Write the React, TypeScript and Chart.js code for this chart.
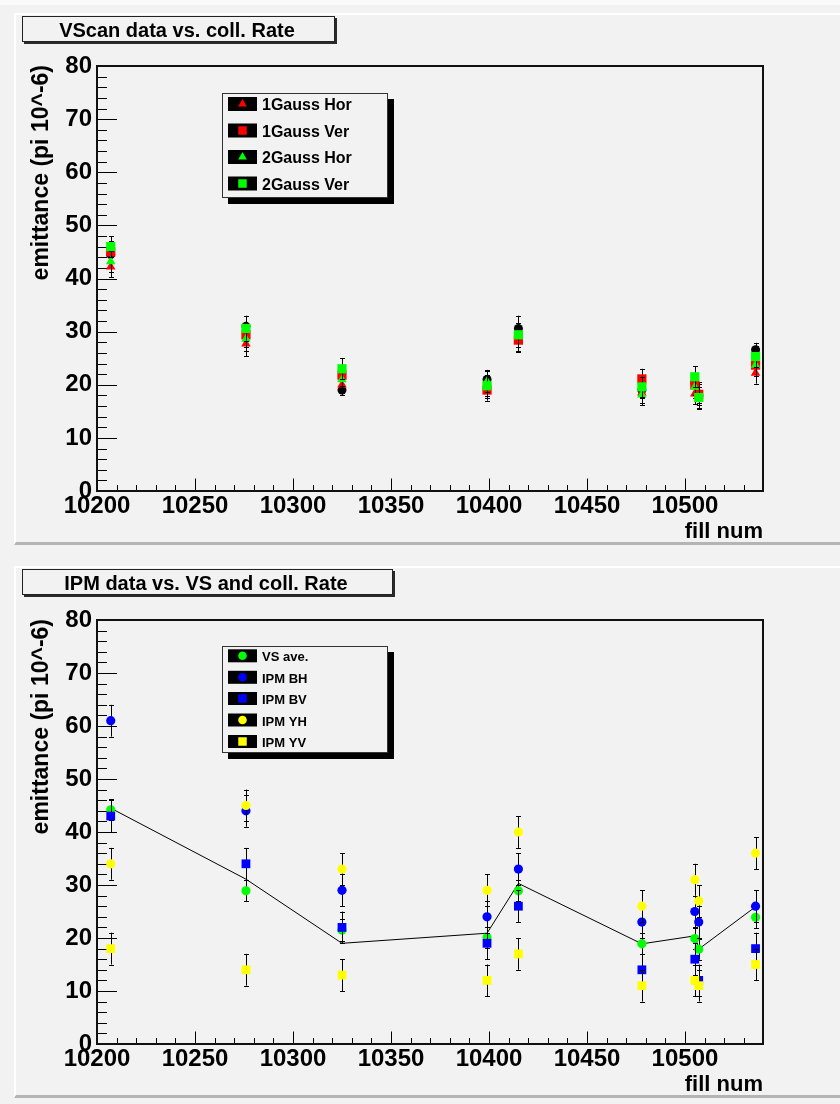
import React, { useEffect, useRef } from 'react';
import { Chart, registerables } from 'chart.js';

Chart.register(...registerables);

const FONT = '"Liberation Sans", Arial, Helvetica, sans-serif';

// ---------- shared axis data ----------
const FILLS = [10207, 10276, 10325, 10399, 10415, 10478, 10505, 10507, 10536];
const X_TICKS = [10200, 10250, 10300, 10350, 10400, 10450, 10500];
const Y_TICKS = [0, 10, 20, 30, 40, 50, 60, 70, 80];
const X_MIN = 10200;
const X_MAX = 10539.8;
const Y_MIN = 0;
const Y_MAX = 80;

// ---------- top panel: VScan data vs. coll. Rate ----------
const COLL_RATE_TOP = [44.5, 31.0, 19.0, 21.0, 30.6, 19.0, 20.4, 18.0, 26.6];
const COLL_RATE_TOP_ERR = [1.5, 2.0, 0.6, 1.8, 2.4, 1.5, 1.5, 1.5, 1.3];
const GAUSS1_HOR = [42.2, 27.7, 20.0, 19.5, 28.5, 18.5, 18.3, 18.5, 22.2];
const GAUSS1_VER = [45.0, 29.4, 21.8, 19.0, 28.4, 21.1, 20.0, 18.2, 23.7];
const GAUSS2_HOR = [43.2, 28.6, 21.0, 20.6, 29.4, 18.1, 19.6, 17.5, 23.7];
const GAUSS2_VER = [46.0, 30.6, 23.0, 19.8, 29.4, 19.6, 21.5, 17.6, 25.3];
const GAUSS_ERR = [2.0, 2.3, 2.0, 2.0, 2.2, 1.9, 2.0, 2.0, 2.0];

// ---------- bottom panel: IPM data vs. VS and coll. Rate ----------
const COLL_RATE_LINE = [44.5, 31.1, 19.0, 20.9, 30.3, 18.9, 20.4, 17.9, 25.9];
const VS_AVE = [44.2, 28.9, 21.5, 20.1, 28.9, 18.9, 19.9, 17.9, 23.9];
const VS_AVE_ERR = [2.0, 2.0, 2.0, 2.0, 2.0, 2.0, 2.0, 2.0, 2.0];
const IPM_BH = [61, 44, 29, 24, 33, 23, 25, 23, 26];
const IPM_BV = [43, 34, 22, 19, 26, 14, 16, 12, 18];
const IPM_YH = [34, 45, 33, 29, 40, 26, 31, 27, 36];
const IPM_YV = [18, 14, 13, 12, 17, 11, 12, 11, 15];
const IPM_ERR = [3, 3, 3, 3, 3, 3, 3, 3, 3];

type PointStyle = 'circle' | 'rect' | 'triangle';

interface SeriesDef {
  label: string | null;
  values: (number | null)[];
  errors: number[] | null;
  color: string;
  style: PointStyle;
  radius: number;
  line?: boolean;
}

interface LegendRow {
  label: string;
  color: string;
  style: PointStyle;
  radius: number;
  cy: number;
}

interface PanelDef {
  title: string;
  titleBox: [number, number, number, number];
  legendBox: [number, number, number, number];
  legendRows: LegendRow[];
  legendFont: number;
  legendRectH: number;
  legendTextDy: number;
  areaTop: number;
  areaBottom: number;
  series: SeriesDef[];
}

const CANVAS_W = 840;
const CANVAS_H = 552;
const AREA_LEFT = 97;
const AREA_RIGHT = 763;

function drawMarker(ctx: CanvasRenderingContext2D, style: PointStyle, x: number, y: number, r: number, color: string) {
  ctx.save();
  ctx.fillStyle = color;
  ctx.beginPath();
  if (style === 'circle') {
    ctx.arc(x, y, r, 0, Math.PI * 2);
  } else if (style === 'rect') {
    const s = Math.SQRT1_2 * r;
    ctx.rect(x - s, y - s, 2 * s, 2 * s);
  } else {
    ctx.moveTo(x, y - r);
    ctx.lineTo(x + 0.866 * r, y + 0.5 * r);
    ctx.lineTo(x - 0.866 * r, y + 0.5 * r);
    ctx.closePath();
  }
  ctx.fill();
  ctx.restore();
}

function makeDecorPlugin(p: PanelDef, errs: (number[] | null)[]) {
  return {
    id: 'rootDecor',
    beforeDatasetsDraw(chart: any) {
      const ctx: CanvasRenderingContext2D = chart.ctx;
      const a = chart.chartArea;
      const xs = chart.scales.x;
      const ys = chart.scales.y;
      ctx.save();
      ctx.strokeStyle = '#000';
      ctx.lineWidth = 1;
      ctx.beginPath();
      for (let v = Y_MIN; v <= Y_MAX + 1e-9; v += 2) {
        const py = Math.round(ys.getPixelForValue(v)) + 0.5;
        const major = Math.abs(v % 10) < 1e-9;
        const len = major ? 20 : 10;
        ctx.moveTo(a.left, py);
        ctx.lineTo(a.left + len, py);
      }
      for (let v = X_MIN; v < X_MAX; v += 10) {
        const px = Math.round(xs.getPixelForValue(v)) + 0.5;
        const major = Math.abs(v % 50) < 1e-9;
        const len = major ? 12.5 : 6;
        ctx.moveTo(px, a.bottom);
        ctx.lineTo(px, a.bottom - len);
      }
      ctx.stroke();
      ctx.lineWidth = 2;
      ctx.strokeStyle = '#111';
      ctx.strokeRect(a.left, a.top, a.right - a.left, a.bottom - a.top);
      ctx.restore();
    },
    beforeDatasetDraw(chart: any, args: any) {
      const e = errs[args.index];
      if (!e) return;
      const ctx: CanvasRenderingContext2D = chart.ctx;
      const ys = chart.scales.y;
      const data = chart.data.datasets[args.index].data as any[];
      ctx.save();
      ctx.strokeStyle = '#000';
      ctx.lineWidth = 1;
      ctx.beginPath();
      args.meta.data.forEach((el: any, i: number) => {
        const d = data[i];
        if (!d || d.y == null) return;
        const x = Math.round(el.x) + 0.5;
        const y1 = ys.getPixelForValue(d.y + e[i]);
        const y2 = ys.getPixelForValue(d.y - e[i]);
        ctx.moveTo(x, y1);
        ctx.lineTo(x, y2);
        ctx.moveTo(x - 2.5, Math.round(y1) + 0.5);
        ctx.lineTo(x + 2.5, Math.round(y1) + 0.5);
        ctx.moveTo(x - 2.5, Math.round(y2) + 0.5);
        ctx.lineTo(x + 2.5, Math.round(y2) + 0.5);
      });
      ctx.stroke();
      ctx.restore();
    },
    afterDraw(chart: any) {
      const ctx: CanvasRenderingContext2D = chart.ctx;
      const a = chart.chartArea;
      ctx.save();
      const [tx0, ty0, tx1, ty1] = p.titleBox;
      ctx.fillStyle = '#2a2a2a';
      ctx.fillRect(tx0 + 2, ty0 + 2, tx1 - tx0, ty1 - ty0);
      ctx.fillStyle = '#f2f2f2';
      ctx.fillRect(tx0, ty0, tx1 - tx0, ty1 - ty0);
      ctx.strokeStyle = '#222';
      ctx.lineWidth = 1;
      ctx.strokeRect(tx0 + 0.5, ty0 + 0.5, tx1 - tx0 - 1, ty1 - ty0 - 1);
      ctx.fillStyle = '#000';
      ctx.font = `bold 20px ${FONT}`;
      ctx.textAlign = 'center';
      ctx.textBaseline = 'alphabetic';
      ctx.fillText(p.title, (tx0 + tx1) / 2 - 1.5, ty1 - 5.5);

      ctx.save();
      ctx.translate(42, a.top - 1);
      ctx.rotate(-Math.PI / 2);
      ctx.font = `bold 23px ${FONT}`;
      ctx.textAlign = 'right';
      ctx.textBaseline = 'middle';
      ctx.fillText('emittance (pi 10^-6)', 0, 0);
      ctx.restore();

      ctx.font = `bold 22px ${FONT}`;
      ctx.textAlign = 'right';
      ctx.textBaseline = 'alphabetic';
      ctx.fillText('fill num', a.right, a.bottom + 47);

      const [lx0, ly0, lx1, ly1] = p.legendBox;
      ctx.fillStyle = '#000';
      ctx.fillRect(lx0 + 6, ly0 + 6, lx1 - lx0, ly1 - ly0);
      ctx.fillStyle = '#f2f2f2';
      ctx.fillRect(lx0, ly0, lx1 - lx0, ly1 - ly0);
      ctx.strokeStyle = '#333';
      ctx.lineWidth = 1;
      ctx.strokeRect(lx0 + 0.5, ly0 + 0.5, lx1 - lx0 - 1, ly1 - ly0 - 1);
      ctx.font = `bold ${p.legendFont}px ${FONT}`;
      ctx.textAlign = 'left';
      ctx.textBaseline = 'middle';
      for (const row of p.legendRows) {
        ctx.fillStyle = '#000';
        ctx.fillRect(228, row.cy - p.legendRectH / 2, 29, p.legendRectH);
        drawMarker(ctx, row.style, 242.5, row.cy, row.radius, row.color);
        ctx.fillStyle = '#000';
        ctx.fillText(row.label, 262, row.cy + p.legendTextDy);
      }
      ctx.restore();
    },
  };
}

function buildConfig(p: PanelDef): any {
  const n = p.series.length;
  const datasets = p.series.map((s, k) => ({
    label: s.label ?? '',
    data: FILLS.map((x, i) => ({ x, y: s.values[i] })),
    order: n - k,
    showLine: !!s.line,
    borderColor: s.line ? '#000' : s.color,
    borderWidth: s.line ? 1 : 0,
    pointStyle: s.style,
    pointRadius: s.line ? 0 : s.radius,
    pointHoverRadius: s.line ? 0 : s.radius,
    pointBackgroundColor: s.color,
    pointBorderColor: s.color,
    pointBorderWidth: 0,
    tension: 0,
  }));
  const errs = p.series.map((s) => s.errors);
  const tickFont = { family: FONT, weight: 'bold', size: 24 };
  return {
    type: 'scatter',
    data: { datasets },
    plugins: [makeDecorPlugin(p, errs)],
    options: {
      animation: false,
      responsive: false,
      devicePixelRatio: 1,
      events: [],
      layout: { padding: { top: p.areaTop, right: CANVAS_W - AREA_RIGHT, left: 0, bottom: 0 } },
      plugins: { legend: { display: false }, tooltip: { enabled: false }, title: { display: false } },
      scales: {
        x: {
          type: 'linear',
          position: 'bottom',
          min: X_MIN,
          max: X_MAX,
          grid: { display: false, drawTicks: false, tickLength: 0 },
          border: { display: false },
          afterBuildTicks: (s: any) => {
            s.ticks = X_TICKS.map((v) => ({ value: v }));
          },
          afterFit: (s: any) => {
            s.height = CANVAS_H - p.areaBottom;
          },
          ticks: {
            padding: 1,
            font: tickFont,
            color: '#000',
            maxRotation: 0,
            minRotation: 0,
            autoSkip: false,
            callback: (v: any) => String(v),
          },
        },
        y: {
          type: 'linear',
          position: 'left',
          min: Y_MIN,
          max: Y_MAX,
          grid: { display: false, drawTicks: false, tickLength: 0 },
          border: { display: false },
          afterBuildTicks: (s: any) => {
            s.ticks = Y_TICKS.map((v) => ({ value: v }));
          },
          afterFit: (s: any) => {
            s.width = AREA_LEFT;
          },
          ticks: {
            padding: 5,
            font: tickFont,
            color: '#000',
            autoSkip: false,
            callback: (v: any) => String(v),
          },
        },
      },
    },
  };
}

const TOP_PANEL: PanelDef = {
  title: 'VScan data vs. coll. Rate',
  titleBox: [22, 16, 335, 42],
  legendBox: [222, 93, 388, 198],
  legendFont: 16,
  legendRectH: 14,
  legendTextDy: 2,
  areaTop: 66,
  areaBottom: 491,
  legendRows: [
    { label: '1Gauss Hor', color: '#ff0000', style: 'triangle', radius: 5, cy: 104 },
    { label: '1Gauss Ver', color: '#ff0000', style: 'rect', radius: 6, cy: 130.5 },
    { label: '2Gauss Hor', color: '#00ff00', style: 'triangle', radius: 5, cy: 157 },
    { label: '2Gauss Ver', color: '#00ff00', style: 'rect', radius: 6, cy: 183.5 },
  ],
  series: [
    { label: null, values: COLL_RATE_TOP, errors: COLL_RATE_TOP_ERR, color: '#000000', style: 'circle', radius: 4.5 },
    { label: '1Gauss Hor', values: GAUSS1_HOR, errors: GAUSS_ERR, color: '#ff0000', style: 'triangle', radius: 5.5 },
    { label: '1Gauss Ver', values: GAUSS1_VER, errors: GAUSS_ERR, color: '#ff0000', style: 'rect', radius: 6.5 },
    { label: '2Gauss Hor', values: GAUSS2_HOR, errors: GAUSS_ERR, color: '#00ff00', style: 'triangle', radius: 5.5 },
    { label: '2Gauss Ver', values: GAUSS2_VER, errors: GAUSS_ERR, color: '#00ff00', style: 'rect', radius: 6.5 },
  ],
};

const BOT_OFF = 552;
const BOTTOM_PANEL: PanelDef = {
  title: 'IPM data vs. VS and coll. Rate',
  titleBox: [22, 569 - BOT_OFF, 393, 595 - BOT_OFF],
  legendBox: [222, 646 - BOT_OFF, 388, 753 - BOT_OFF],
  legendFont: 13,
  legendRectH: 13,
  legendTextDy: 2,
  areaTop: 620 - BOT_OFF,
  areaBottom: 1044 - BOT_OFF,
  legendRows: [
    { label: 'VS ave.', color: '#00ff00', style: 'circle', radius: 4.3, cy: 655.8 - BOT_OFF },
    { label: 'IPM BH', color: '#0000ff', style: 'circle', radius: 4.3, cy: 677.3 - BOT_OFF },
    { label: 'IPM BV', color: '#0000ff', style: 'rect', radius: 6, cy: 698.5 - BOT_OFF },
    { label: 'IPM YH', color: '#ffff00', style: 'circle', radius: 4.3, cy: 720 - BOT_OFF },
    { label: 'IPM YV', color: '#ffff00', style: 'rect', radius: 6, cy: 741.5 - BOT_OFF },
  ],
  series: [
    { label: null, values: COLL_RATE_LINE, errors: null, color: '#000000', style: 'circle', radius: 0, line: true },
    { label: 'VS ave.', values: VS_AVE, errors: VS_AVE_ERR, color: '#00ff00', style: 'circle', radius: 4.6 },
    { label: 'IPM BH', values: IPM_BH, errors: IPM_ERR, color: '#0000ff', style: 'circle', radius: 4.6 },
    { label: 'IPM BV', values: IPM_BV, errors: IPM_ERR, color: '#0000ff', style: 'rect', radius: 6.2 },
    { label: 'IPM YH', values: IPM_YH, errors: IPM_ERR, color: '#ffff00', style: 'circle', radius: 4.6 },
    { label: 'IPM YV', values: IPM_YV, errors: IPM_ERR, color: '#ffff00', style: 'rect', radius: 6.2 },
  ],
};

function PanelChart({ panel, top }: { panel: PanelDef; top: number }) {
  const ref = useRef<HTMLCanvasElement>(null);
  useEffect(() => {
    if (!ref.current) return;
    const chart = new Chart(ref.current, buildConfig(panel));
    return () => chart.destroy();
  }, [panel]);
  return (
    <canvas
      ref={ref}
      width={CANVAS_W}
      height={CANVAS_H}
      style={{ position: 'absolute', left: 0, top, width: CANVAS_W, height: CANVAS_H, display: 'block' }}
    />
  );
}

export default function App() {
  const padStyle = (top: number): React.CSSProperties => ({
    position: 'absolute',
    left: 14,
    top,
    width: 840 - 14,
    height: 532,
    boxSizing: 'border-box',
    borderTop: '2px solid #ffffff',
    borderLeft: '2px solid #ffffff',
    borderBottom: '3px solid #b4b4b4',
    background: '#f2f2f2',
  });
  return (
    <div
      style={{
        position: 'absolute',
        left: 0,
        top: 0,
        width: 840,
        height: 1104,
        background: '#f2f2f2',
        overflow: 'hidden',
      }}
    >
      <div style={{ position: 'absolute', left: 0, top: 0, width: 840, height: 5, background: '#fafafa' }} />
      <div style={padStyle(13)} />
      <div style={padStyle(566)} />
      <PanelChart panel={TOP_PANEL} top={0} />
      <PanelChart panel={BOTTOM_PANEL} top={BOT_OFF} />
    </div>
  );
}
